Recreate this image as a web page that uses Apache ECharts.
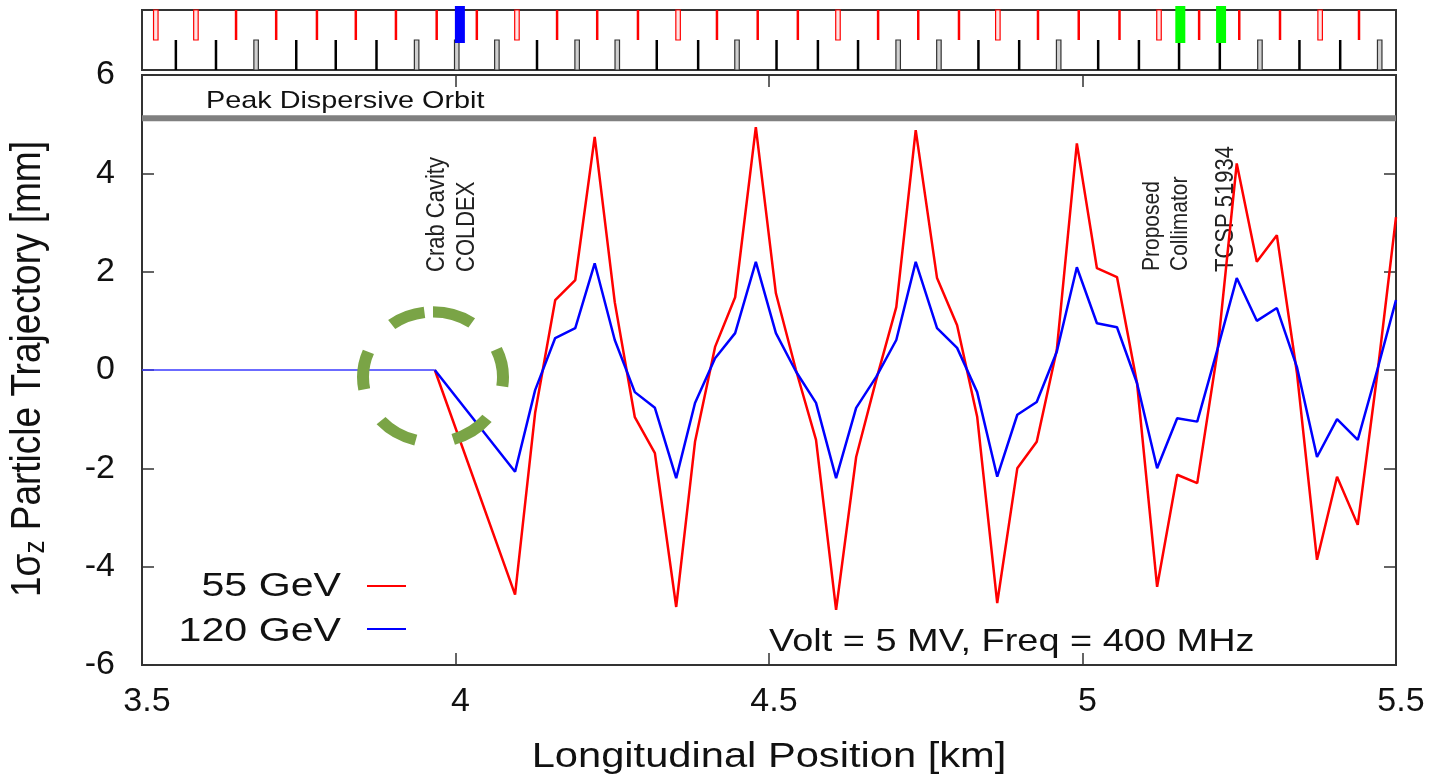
<!DOCTYPE html>
<html><head><meta charset="utf-8">
<style>html,body{margin:0;padding:0;background:#fff}#c{width:1432px;height:776px}</style>
<script src="https://cdn.jsdelivr.net/npm/echarts@6/dist/echarts.min.js"></script>
</head><body><div id="c"></div>
<script>
const positions=[3.967,4.095,4.127,4.159,4.191,4.222,4.254,4.286,4.318,4.352,4.382,4.414,4.446,4.479,4.511,4.543,4.575,4.607,4.639,4.671,4.703,4.734,4.768,4.800,4.832,4.864,4.896,4.927,4.959,4.991,5.023,5.055,5.087,5.119,5.151,5.183,5.215,5.246,5.278,5.310,5.342,5.374,5.406,5.439,5.471,5.5];
const gev55=[0,-4.57,-0.87,1.42,1.83,4.74,1.38,-0.96,-1.69,-4.82,-1.46,0.47,1.48,4.94,1.56,0,-1.42,-4.88,-1.77,-0.2,1.28,4.88,1.87,0.91,-0.95,-4.74,-2.0,-1.46,0.41,4.61,2.07,1.89,-0.27,-4.41,-2.13,-2.3,0.35,4.2,2.2,2.74,-0.06,-3.86,-2.17,-3.15,0,3.11];
const gev120=[0,-2.07,-0.41,0.65,0.85,2.17,0.61,-0.45,-0.77,-2.2,-0.67,0.24,0.75,2.2,0.75,-0.03,-0.67,-2.2,-0.77,-0.14,0.61,2.2,0.85,0.45,-0.45,-2.17,-0.91,-0.65,0.37,2.09,0.95,0.87,-0.27,-2.0,-0.98,-1.05,0.41,1.87,1.0,1.26,0.06,-1.77,-1.0,-1.42,0.04,1.42];
const driftX=[3.5,3.967], driftY=[0,0];
const orbitX=[3.5,5.5], orbitY=[5.12,5.12];
const redSolid=[3.650,3.714,3.779,3.841,3.905,3.970,4.034,4.162,4.226,4.291,4.417,4.482,4.546,4.674,4.738,4.803,4.929,4.994,5.059,5.186,5.250,5.315,5.441];
const redHollow=[3.522,3.586,4.098,4.355,4.610,4.865,5.122,5.379];
const blackSolid=[3.554,3.618,3.746,3.809,3.874,4.130,4.321,4.387,4.512,4.578,4.642,4.834,4.899,5.025,5.090,5.154,5.219,5.346,5.411];
const blackHollow=[3.682,3.938,4.002,4.066,4.194,4.258,4.449,4.706,4.771,4.962,5.283,5.474];
const blueMarks=[4.007], greenMarks=[5.156,5.221];
const legendNames=['55 GeV','120 GeV'];
const FONT='"Liberation Sans"', INK='#333', TXT='#111';

function toRows(xs,lo,hi){return xs.map(x=>[x,lo,hi]);}
function ticks(name,xs,lo,hi,color,kind,w,fill){
  return {type:'custom',name,xAxisIndex:2,yAxisIndex:2,silent:true,clip:false,z:kind==='block'?5:3,
    data:toRows(xs,lo,hi),encode:{x:0,y:[1,2]},
    renderItem(p,api){
      const a=api.coord([api.value(0),api.value(1)]), b=api.coord([api.value(0),api.value(2)]);
      if(kind==='solid')return {type:'line',shape:{x1:a[0],y1:a[1],x2:b[0],y2:b[1]},style:{stroke:color,lineWidth:w}};
      if(kind==='hollow')return {type:'rect',shape:{x:a[0]-w/2,y:b[1],width:w,height:a[1]-b[1]},style:{fill:fill,stroke:color,lineWidth:1.2}};
      return {type:'rect',shape:{x:a[0]-w/2,y:b[1],width:w,height:a[1]-b[1]},style:{fill:color}};
    }};
}
const stext=(t,x,y,size,sx,align)=>({type:'text',x,y,scaleX:sx,silent:true,z:2,
  style:{text:t,font:size+'px '+FONT,fill:TXT,textAlign:align||'left',textVerticalAlign:'middle'}});
const vtext=(t,x,y,size)=>({type:'text',x,y,rotation:Math.PI/2,scaleY:1.15,z:2,silent:true,
  style:{text:t,font:size+'px '+FONT,fill:'#222',textAlign:'left',textVerticalAlign:'middle'}});
const label={fontFamily:FONT,fontSize:34,color:TXT};
const tick={show:true,inside:true,length:12,lineStyle:{color:INK,width:1.5}};
const main=(pos,show)=>({type:'value',gridIndex:0,position:pos,min:3.5,max:5.5,interval:0.5,splitLine:{show:false},axisLine:{show:false,onZero:false},
  axisTick:tick,axisLabel:{show:show,...label,margin:20,padding:[0,0,0,10],formatter:v=>String(v)}});
const side=(pos,show)=>({type:'value',gridIndex:0,position:pos,min:-6,max:6,interval:2,splitLine:{show:false},axisLine:{show:false,onZero:false},
  axisTick:tick,axisLabel:{show:show,...label,margin:27}});
const chart=echarts.init(document.getElementById('c'));
chart.setOption({
  animation:false,backgroundColor:'#fff',
  grid:[
    {left:142,right:36,top:75,bottom:111,show:true,borderColor:INK,borderWidth:2,backgroundColor:'transparent',outerBoundsMode:'none'},
    {left:142,right:36,top:10,height:60,show:true,borderColor:INK,borderWidth:2,backgroundColor:'transparent',outerBoundsMode:'none'}
  ],
  xAxis:[main('bottom',true),main('top',false),{type:'value',gridIndex:1,min:3.5,max:5.5,interval:0.5,show:false}],
  yAxis:[side('left',true),side('right',false),{type:'value',gridIndex:1,min:0,max:1,show:false}],
  legend:{orient:'vertical',right:1021,top:580,itemWidth:39,itemHeight:2,itemGap:41,icon:'rect',
    data:legendNames,formatter:()=>'',textStyle:{fontSize:1},selectedMode:false},
  series:[
    {type:'line',name:'Peak Dispersive Orbit',data:orbitX.map((x,i)=>[x,orbitY[i]]),showSymbol:false,silent:true,lineStyle:{color:'#808080',width:6},z:1},
    {type:'line',name:legendNames[0],data:positions.map((x,i)=>[x,gev55[i]]),showSymbol:false,silent:true,lineStyle:{color:'#ff0000',width:2.5},itemStyle:{color:'#ff0000'},z:3},
    {type:'line',name:legendNames[1],data:positions.map((x,i)=>[x,gev120[i]]),showSymbol:false,silent:true,lineStyle:{color:'#0000ff',width:2.5},itemStyle:{color:'#0000ff'},z:4},
    {type:'line',name:'drift',data:driftX.map((x,i)=>[x,driftY[i]]),showSymbol:false,silent:true,lineStyle:{color:'#3a3aff',width:1.5},z:4},
    ticks('redSolid',redSolid,0.5,1,'#ff0000','solid',2.5),
    ticks('redHollow',redHollow,0.5,1,'#ff0000','hollow',4.5,'#ffe4e4'),
    ticks('blackSolid',blackSolid,0,0.5,'#000','solid',2.5),
    ticks('blackHollow',blackHollow,0,0.5,'#333','hollow',4.5,'#d0d0d0'),
    ticks('blue',blueMarks,0.45,1.067,'#0000ff','block',10),
    ticks('green',greenMarks,0.45,1.067,'#00ff00','block',10)
  ],
  graphic:[
    {type:'arc',z:10,silent:true,x:433,y:377,scaleY:0.93,
     shape:{cx:0,cy:0,r:70,startAngle:-Math.PI/2,endAngle:Math.PI*263/180,clockwise:true},
     style:{fill:'none',stroke:'#7aa446',lineWidth:12,lineDash:[41,38]}},
    stext('Peak Dispersive Orbit',206,101,24,1.2),
    stext('Volt = 5 MV, Freq = 400 MHz',769,642,32,1.185),
    stext('Longitudinal Position [km]',769,757,35,1.19,'center'),
    stext(legendNames[0],341,587,34,1.21,'right'),
    stext(legendNames[1],341,632,34,1.21,'right'),
    {type:'text',x:28,y:369,rotation:Math.PI/2,scaleY:1.13,silent:true,
     style:{text:'{a|1σ}{b|z}{a| Particle Trajectory [mm]}',textAlign:'center',textVerticalAlign:'middle',fill:TXT,
       rich:{a:{font:'37px '+FONT,fill:TXT},b:{font:'26px '+FONT,fill:TXT,verticalAlign:'bottom',padding:[14,0,0,0]}}}},
    vtext('Crab Cavity',437,272,22), vtext('COLDEX',467,272,22),
    vtext('Proposed',1152,271,21), vtext('Collimator',1180,271,21), vtext('TCSP 51934',1226,272,22)
  ]
});
</script></body></html>
